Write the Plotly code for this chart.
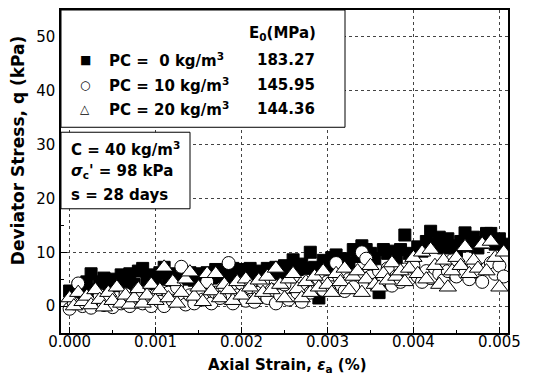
import plotly.graph_objects as go

# Axial strain (%) sampled for all three specimens
strain = [0.00000, 0.00005, 0.00010, 0.00015, 0.00020, 0.00025, 0.00030, 0.00035, 0.00040, 0.00045,
          0.00050, 0.00055, 0.00060, 0.00065, 0.00070, 0.00075, 0.00080, 0.00085, 0.00090, 0.00095,
          0.00100, 0.00105, 0.00110, 0.00115, 0.00120, 0.00125, 0.00130, 0.00135, 0.00140, 0.00145,
          0.00150, 0.00155, 0.00160, 0.00165, 0.00170, 0.00175, 0.00180, 0.00185, 0.00190, 0.00195,
          0.00200, 0.00205, 0.00210, 0.00215, 0.00220, 0.00225, 0.00230, 0.00235, 0.00240, 0.00245,
          0.00250, 0.00255, 0.00260, 0.00265, 0.00270, 0.00275, 0.00280, 0.00285, 0.00290, 0.00295,
          0.00300, 0.00305, 0.00310, 0.00315, 0.00320, 0.00325, 0.00330, 0.00335, 0.00340, 0.00345,
          0.00350, 0.00355, 0.00360, 0.00365, 0.00370, 0.00375, 0.00380, 0.00385, 0.00390, 0.00395,
          0.00400, 0.00405, 0.00410, 0.00415, 0.00420, 0.00425, 0.00430, 0.00435, 0.00440, 0.00445,
          0.00450, 0.00455, 0.00460, 0.00465, 0.00470, 0.00475, 0.00480, 0.00485, 0.00490, 0.00495,
          0.00500, 0.00505]

# Deviator stress q (kPa)
q_pc0 = [2.8, 1.5, 3.5, 2.5, 4.5, 6.0, 3.0, 4.5, 5.2, 3.5,
         5.0, 3.2, 5.8, 4.5, 6.0, 4.0, 6.5, 7.0, 4.8, 5.8,
         4.2, 6.2, 7.2, 5.0, 6.0, 4.2, 5.5, 5.0, 6.2, 4.8,
         6.0, 4.0, 6.2, 5.2, 6.8, 5.5, 6.5, 5.0, 7.0, 5.8,
         6.8, 5.5, 7.0, 6.0, 6.5, 5.2, 7.0, 6.0, 7.2, 6.2,
         7.5, 6.5, 8.6, 6.8, 7.8, 7.0, 10.0, 7.2, 1.5, 8.5,
         7.2, 9.0, 9.5, 7.8, 8.8, 8.0, 10.5, 9.2, 11.2, 10.5,
         9.8, 8.8, 2.5, 10.5, 9.8, 10.2, 9.0, 10.5, 13.2, 9.8,
         9.2, 11.0, 10.2, 12.0, 13.9, 11.5, 12.8, 10.8, 12.5, 11.2,
         10.2, 12.0, 13.6, 11.2, 12.8, 10.8, 11.8, 13.5, 13.5, 11.5,
         12.5, 11.5]

q_pc10 = [-0.5, 0.5, 4.2, 0.0, 1.2, -0.3, 0.8, 2.0, 0.2, 1.0,
          -0.2, 1.5, 0.5, 2.2, 0.0, 1.0, 2.8, 0.5, 1.5, 0.0,
          2.0, 0.8, 0.0, 2.5, 1.0, 3.5, 7.3, 0.3, 2.0, 0.5,
          3.0, 1.2, 4.5, 0.5, 2.5, 1.5, 3.5, 8.0, 0.5, 2.0,
          4.2, 1.0, 3.5, 0.8, 2.5, 4.5, 1.5, 3.0, 0.5, 2.0,
          4.0, 1.2, 5.5, 2.5, 0.8, 4.0, 2.5, 3.5, 5.0, 3.0,
          4.5, 3.5, 8.0, 4.0, 2.8, 5.0, 3.5, 6.0, 10.0, 8.8,
          5.5, 4.0, 6.5, 5.0, 7.0, 3.8, 5.5, 4.5, 6.8, 5.0,
          7.5, 5.5, 4.5, 6.5, 5.2, 7.0, 6.0, 4.8, 6.5, 8.5,
          5.5, 7.0, 6.0, 5.0, 7.5, 6.2, 4.5, 7.0, 8.0, 6.0,
          7.5, 5.5]

q_pc20 = [1.5, 0.0, 2.5, 0.8, 1.8, 0.2, 3.0, 1.2, -0.2, 2.5,
          1.0, 3.5, 0.5, 2.0, 0.3, 1.5, 3.2, 0.5, 2.0, 4.0,
          1.0, 3.0, 7.2, 1.5, 4.5, 0.5, 2.5, 5.0, 6.3, 1.8,
          3.5, 0.8, 6.0, 2.8, 6.0, 1.5, 4.0, 3.0, 1.0, 4.5,
          2.0, 5.0, 3.5, 1.2, 4.8, 2.5, 5.5, 3.0, 7.0, 4.0,
          1.5, 5.0, 6.0, 3.2, 1.5, 4.5, 2.5, 5.5, 3.5, 6.5,
          4.0, 2.5, 6.0, 4.5, 7.0, 3.0, 5.5, 6.5, 2.5, 5.0,
          7.5, 4.0, 3.5, 6.0, 4.8, 8.0, 5.5, 6.5, 4.5, 7.0,
          9.0, 6.0, 10.0, 5.0, 10.5, 7.5, 4.0, 8.5, 3.5, 6.5,
          9.0, 7.5, 11.0, 6.0, 8.5, 7.0, 11.5, 6.5, 12.0, 9.0,
          3.5, 10.0]

x_ticks = [0.000, 0.001, 0.002, 0.003, 0.004, 0.005]
y_ticks = [0, 10, 20, 30, 40, 50]
legend_rows = ["PC =\u00a0\u00a00 kg/m<sup>3</sup>", "PC = 10 kg/m<sup>3</sup>", "PC = 20 kg/m<sup>3</sup>"]
legend_symbols = ["\u25a0", "\u25cb", "\u25b3"]
e0_values = ["183.27", "145.95", "144.36"]

W, H = 550, 383
OFF = 8                       # page body margin of the exported html
L, R, T, B = 61, 508, 8, 333  # plot area in page pixels


def px(x):
    return (x - L) / (R - L)


def py(y):
    return (B - y) / (B - T)


FONT = "DejaVu Sans"
fig = go.Figure()

fig.add_trace(go.Scatter(x=strain, y=q_pc0, mode="markers", name="PC = 0",
                         marker=dict(symbol="square", size=12, color="black",
                                     line=dict(color="black", width=1))))
fig.add_trace(go.Scatter(x=strain, y=q_pc10, mode="markers", name="PC = 10",
                         marker=dict(symbol="circle", size=13, color="white",
                                     line=dict(color="black", width=1))))
fig.add_trace(go.Scatter(x=strain, y=q_pc20, mode="markers", name="PC = 20",
                         marker=dict(symbol="triangle-up", size=15, color="white",
                                     line=dict(color="black", width=1))))

axis_common = dict(showline=True, linecolor="black", linewidth=1.5, mirror=True,
                   ticks="inside", ticklen=6, tickcolor="black",
                   showgrid=True, gridcolor="#444", griddash="dot", gridwidth=1,
                   zeroline=False,
                   tickfont=dict(family=FONT, size=15, color="black"))

fig.update_xaxes(range=[-0.0001, 0.0051], tickvals=x_ticks, tickformat=".3f",
                 ticklabelstandoff=-6,
                 minor=dict(dtick=0.0005, tick0=0, ticks="inside", ticklen=3,
                            tickcolor="black", showgrid=False),
                 **axis_common)
fig.update_yaxes(range=[-5, 55], tickvals=y_ticks, ticklabelstandoff=1,
                 minor=dict(dtick=5, tick0=0, ticks="inside", ticklen=3,
                            tickcolor="black", showgrid=False),
                 **axis_common)

shapes = [
    dict(type="rect", xref="paper", yref="paper", x0=px(L), x1=px(345), y0=py(126), y1=py(T),
         fillcolor="white", line=dict(color="black", width=1), layer="above"),
    dict(type="rect", xref="paper", yref="paper", x0=px(L), x1=px(190), y0=py(208), y1=py(131),
         fillcolor="white", line=dict(color="black", width=1), layer="above"),
]

bold = dict(family=FONT, size=15, color="black", weight="bold")
anns = []
anns.append(dict(text="E<sub>0</sub>(MPa)", x=px(318), y=py(32), xanchor="right", yanchor="middle",
                 font=bold))
row_y = [58, 83, 108]
for sym, lab, val, yy in zip(legend_symbols, legend_rows, e0_values, row_y):
    anns.append(dict(text=sym, x=px(85), y=py(yy), xanchor="center", yanchor="middle",
                     font=dict(family="DejaVu Sans", size=12, color="black")))
    anns.append(dict(text=lab, x=px(107), y=py(yy), xanchor="left", yanchor="middle", font=bold))
    anns.append(dict(text=val, x=px(317), y=py(yy), xanchor="right", yanchor="middle", font=bold))

for txt, yy in [("C = 40 kg/m<sup>3</sup>", 148), ("<i>σ</i><sub>c</sub>' = 98 kPa", 171),
                ("s = 28 days", 194)]:
    anns.append(dict(text=txt, x=px(69), y=py(yy), xanchor="left", yanchor="middle", font=bold))

anns.append(dict(text="Axial Strain, <i>ε</i><sub>a</sub> (%)", x=px(287), y=py(366),
                 xanchor="center", yanchor="middle",
                 font=dict(family=FONT, size=15, color="black", weight="bold")))
anns.append(dict(text="Deviator Stress, q (kPa)", x=px(18), y=py(150), textangle=-90,
                 xanchor="center", yanchor="middle",
                 font=dict(family=FONT, size=17, color="black", weight="bold")))
for a in anns:
    a.update(xref="paper", yref="paper", showarrow=False)

fig.update_layout(width=W, height=H,
                  margin=dict(l=L - OFF, r=W - R + OFF, t=T - OFF, b=H - B + OFF),
                  paper_bgcolor="white", plot_bgcolor="white", showlegend=False,
                  shapes=shapes, annotations=anns)

fig.write_html("out.html")
